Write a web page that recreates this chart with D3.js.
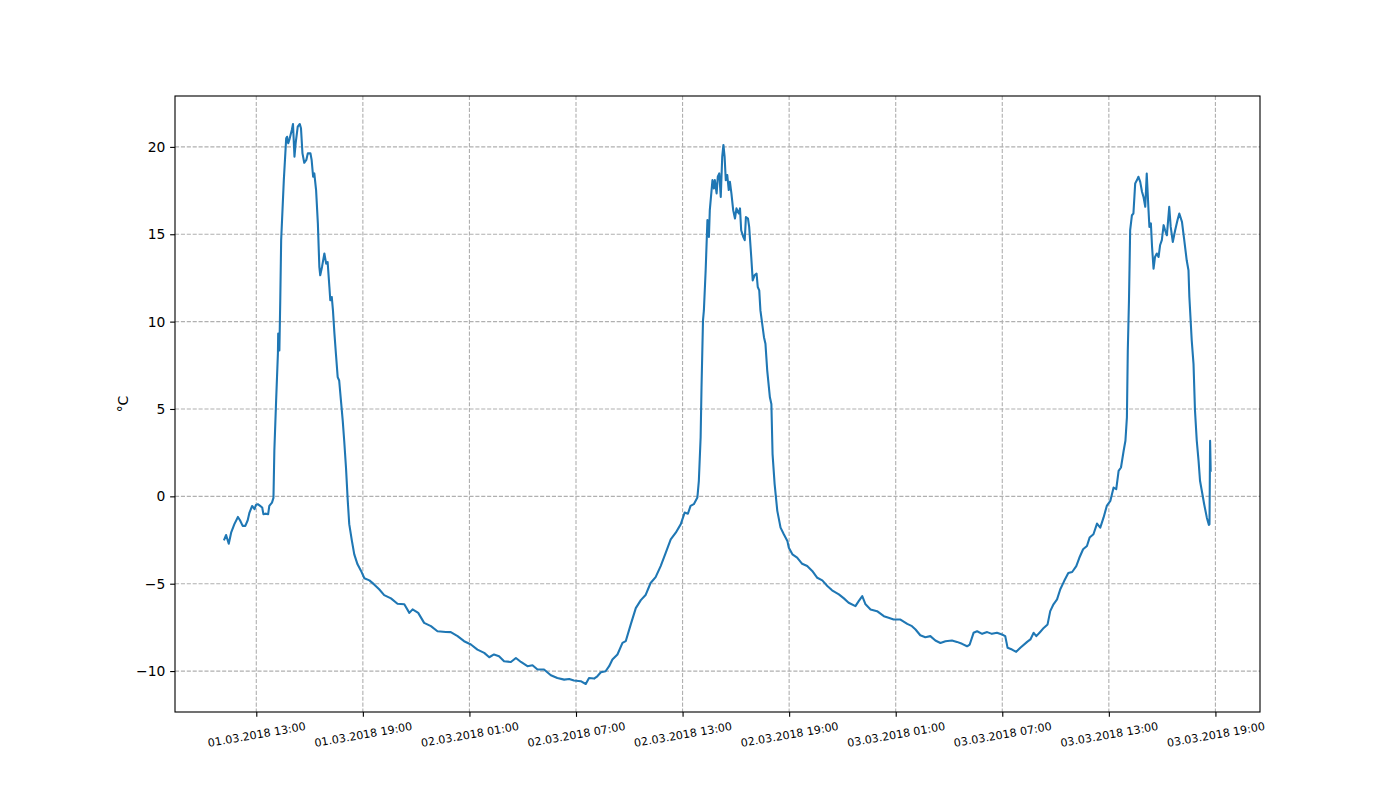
<!DOCTYPE html>
<html>
<head>
<meta charset="utf-8">
<script src="https://cdn.jsdelivr.net/npm/d3@7"></script>
<style>
  html, body { margin: 0; padding: 0; background: #ffffff; }
  svg { display: block; font-family: "DejaVu Sans", sans-serif; }
</style>
</head>
<body>
<svg id="chart" width="1400" height="800"></svg>
<script>
// ---- Data ----
const day1Times = ["11:12","11:18","11:27","11:35","11:46","11:58","12:05","12:14","12:23","12:31","12:37","12:46","12:54","12:59","13:05","13:13","13:20","13:24","13:33","13:40","13:44","13:53","13:58","14:01","14:07","14:13","14:14","14:18","14:21","14:24","14:33","14:41","14:44","14:48","14:53","15:00","15:04","15:09","15:13","15:20","15:27","15:31","15:36","15:42","15:49","15:54","16:03","16:07","16:12","16:16","16:22","16:28","16:33","16:36","16:42","16:50","16:56","17:01","17:07","17:10","17:15","17:19","17:24","17:29","17:35","17:40","17:46","17:52","17:57","18:03","18:09","18:14","18:23","18:31","18:42","18:54","19:05","19:22","19:38","19:55","20:12","20:35","20:57","21:20","21:37","21:48","22:07","22:27","22:50","23:12","23:40","23:57"];
const day1Temps = [-2.46,-2.21,-2.71,-2.08,-1.59,-1.18,-1.37,-1.69,-1.69,-1.37,-0.93,-0.55,-0.73,-0.49,-0.45,-0.55,-0.64,-1.02,-0.99,-1.02,-0.55,-0.36,-0.09,2.61,5.48,8.16,9.32,8.35,11.22,14.66,18.1,20.49,20.58,20.21,20.49,20.97,21.31,19.44,20.21,21.16,21.31,21.07,19.63,19.09,19.25,19.63,19.63,19.25,18.29,18.48,17.53,15.62,13.13,12.65,13.13,13.9,13.32,13.41,11.98,11.22,11.41,10.64,9.31,8.16,6.82,6.63,5.48,4.33,3.18,1.65,-0.26,-1.59,-2.55,-3.32,-3.89,-4.27,-4.69,-4.81,-5.04,-5.32,-5.65,-5.84,-6.15,-6.18,-6.67,-6.47,-6.67,-7.24,-7.43,-7.72,-7.76,-7.77];

const day2Times = ["00:20","00:42","01:05","01:27","01:50","02:07","02:23","02:40","02:57","03:20","03:37","03:54","04:16","04:33","04:50","05:12","05:35","05:57","06:20","06:37","06:53","07:16","07:33","07:44","08:01","08:12","08:24","08:40","08:52","09:03","09:20","09:37","09:48","10:05","10:22","10:39","10:55","11:12","11:29","11:46","12:03","12:20","12:37","12:54","13:07","13:18","13:27","13:38","13:50","13:55","14:01","14:04","14:09","14:12","14:18","14:24","14:29","14:32","14:41","14:46","14:49","14:55","14:59","15:04","15:09","15:14","15:18","15:22","15:26","15:31","15:36","15:40","15:45","15:51","15:57","16:02","16:10","16:14","16:18","16:25","16:30","16:34","16:41","16:45","16:52","16:57","17:03","17:10","17:14","17:19","17:23","17:35","17:40","17:46","17:55","18:00","18:04","18:11","18:20","18:31","18:42","18:54","18:59","19:11","19:27","19:44","20:01","20:18","20:35","20:52","21:09","21:25","21:48","22:05","22:21","22:44","22:55","23:07","23:18","23:35","23:57"];
const day2Temps = [-8.0,-8.29,-8.48,-8.77,-8.96,-9.21,-9.05,-9.15,-9.44,-9.48,-9.25,-9.48,-9.72,-9.67,-9.91,-9.91,-10.24,-10.4,-10.49,-10.45,-10.54,-10.58,-10.74,-10.4,-10.43,-10.3,-10.07,-10.01,-9.72,-9.34,-9.05,-8.39,-8.29,-7.33,-6.4,-5.94,-5.65,-4.96,-4.62,-3.99,-3.24,-2.46,-2.08,-1.59,-0.93,-0.99,-0.55,-0.45,-0.07,0.89,3.37,6.24,10.07,10.64,12.94,15.81,14.85,16.38,18.1,17.62,18.1,17.34,18.29,18.48,17.14,19.44,20.11,19.44,18.1,18.39,17.53,18.0,17.34,16.38,15.9,16.48,16.19,16.48,15.23,14.85,14.66,15.99,15.9,15.42,13.7,12.36,12.65,12.75,11.98,11.79,10.64,9.11,8.73,7.2,5.67,5.29,2.42,0.7,-0.83,-1.79,-2.17,-2.55,-2.94,-3.32,-3.51,-3.86,-3.99,-4.27,-4.66,-4.81,-5.13,-5.38,-5.61,-5.84,-6.09,-6.28,-6.0,-5.71,-6.18,-6.47,-6.57];

const day3Times = ["00:20","00:36","00:53","01:16","01:39","01:55","02:07","02:23","02:40","02:57","03:14","03:31","03:48","04:10","04:27","04:44","05:01","05:10","05:23","05:35","05:52","06:09","06:25","06:42","06:59","07:10","07:18","07:33","07:47","08:01","08:24","08:35","08:46","08:55","09:08","09:20","09:33","09:42","09:53","10:05","10:16","10:29","10:43","10:56","11:10","11:20","11:33","11:46","11:55","12:08","12:20","12:31","12:42","12:53","13:05","13:16","13:25","13:33","13:41","13:50","13:56","14:01","14:04","14:08","14:12","14:18","14:23","14:29","14:35","14:40","14:46","14:52","14:57","15:03","15:08","15:14","15:17","15:22","15:26","15:31","15:36","15:42","15:48","15:53","15:59","16:05","16:10","16:16","16:24","16:29","16:36","16:44","16:52","16:58","17:07","17:14","17:23","17:29","17:32","17:40","17:46","17:51","17:57","18:03","18:08","18:14","18:22","18:31","18:38","18:40","18:42","18:44"];
const day3Temps = [-6.86,-6.95,-7.05,-7.05,-7.3,-7.43,-7.62,-7.95,-8.06,-8.0,-8.25,-8.39,-8.29,-8.25,-8.33,-8.44,-8.58,-8.48,-7.81,-7.72,-7.87,-7.77,-7.87,-7.81,-7.91,-8.0,-8.67,-8.77,-8.9,-8.67,-8.33,-8.19,-7.81,-8.0,-7.76,-7.53,-7.33,-6.57,-6.18,-5.9,-5.32,-4.85,-4.39,-4.33,-3.99,-3.53,-3.03,-2.84,-2.36,-2.17,-1.56,-1.79,-1.22,-0.55,-0.26,0.5,0.41,1.46,1.65,2.61,3.18,4.52,8.35,11.22,15.23,16.09,16.19,17.91,18.1,18.29,18.0,17.43,17.14,16.57,18.48,16.38,15.42,15.62,14.27,13.03,13.7,13.9,13.7,14.37,14.66,15.52,15.23,14.94,16.57,15.42,14.56,15.23,15.81,16.19,15.71,14.76,13.51,12.94,11.41,8.92,7.58,4.91,3.18,2.04,0.89,0.32,-0.45,-1.22,-1.64,-1.59,3.18,1.46];

const days = ["01.03.2018", "02.03.2018", "03.03.2018"];
const xTickLabels = ["01.03.2018 13:00","01.03.2018 19:00","02.03.2018 01:00","02.03.2018 07:00","02.03.2018 13:00","02.03.2018 19:00","03.03.2018 01:00","03.03.2018 07:00","03.03.2018 13:00","03.03.2018 19:00"];
const yTicks = [-10, -5, 0, 5, 10, 15, 20];
const yLabel = "°C";

// ---- Build records ----
const parse = d3.timeParse("%d.%m.%Y %H:%M");
const fmt = d3.timeFormat("%d.%m.%Y %H:%M");
const data = [];
[[day1Times, day1Temps], [day2Times, day2Temps], [day3Times, day3Temps]].forEach(([ts, vs], i) => {
  ts.forEach((t, j) => data.push({ t: parse(days[i] + " " + t), v: vs[j] }));
});

// ---- Layout ----
const PT = 100 / 72; // matplotlib points -> px at 100 dpi
const svg = d3.select("#chart");
const mLeft = 175, mRight = 1260, mTop = 96, mBottom = 712;

// matplotlib-like 5% margins
const tExt = d3.extent(data, d => d.t);
const tPad = (tExt[1] - tExt[0]) * 0.05;
const vExt = d3.extent(data, d => d.v);
const vPad = (vExt[1] - vExt[0]) * 0.05;

const x = d3.scaleTime()
  .domain([new Date(+tExt[0] - tPad), new Date(+tExt[1] + tPad)])
  .range([mLeft, mRight]);
const y = d3.scaleLinear()
  .domain([vExt[0] - vPad, vExt[1] + vPad])
  .range([mBottom, mTop]);

const xTickDates = xTickLabels.map(s => parse(s));

// grid
const grid = svg.append("g").attr("stroke", "#b0b0b0").attr("stroke-width", 0.8 * PT)
  .attr("stroke-dasharray", `${2.96 * PT},${1.28 * PT}`);
grid.selectAll("line.gx").data(xTickDates).enter().append("line")
  .attr("x1", d => x(d)).attr("x2", d => x(d))
  .attr("y1", mTop).attr("y2", mBottom);
grid.selectAll("line.gy").data(yTicks).enter().append("line")
  .attr("y1", d => y(d)).attr("y2", d => y(d))
  .attr("x1", mLeft).attr("x2", mRight);

// line
const line = d3.line().x(d => x(d.t)).y(d => y(d.v));
svg.append("path").datum(data)
  .attr("fill", "none")
  .attr("stroke", "#1f77b4")
  .attr("stroke-width", 1.5 * PT)
  .attr("stroke-linejoin", "round")
  .attr("stroke-linecap", "square")
  .attr("d", line);

// axes
const xAxis = d3.axisBottom(x).tickValues(xTickDates).tickSize(3.5 * PT).tickPadding(3.5 * PT)
  .tickFormat(d => fmt(d));
const gx = svg.append("g").attr("transform", `translate(0,${mBottom})`).call(xAxis);
gx.select(".domain").remove();
gx.selectAll(".tick line").attr("stroke", "#000").attr("stroke-width", 0.8 * PT);
gx.selectAll(".tick text")
  .attr("font-size", (8 * PT) + "px")
  .attr("font-family", "DejaVu Sans, sans-serif")
  .attr("fill", "#000")
  .attr("y", 0).attr("dy", null)
  .attr("text-anchor", "middle")
  .attr("dominant-baseline", "central")
  .attr("transform", "translate(0,23) rotate(-10)");

const yAxis = d3.axisLeft(y).tickValues(yTicks).tickSize(3.5 * PT).tickPadding(3.5 * PT)
  .tickFormat(d3.format("d"));
const gy = svg.append("g").attr("transform", `translate(${mLeft},0)`).call(yAxis);
gy.select(".domain").remove();
gy.selectAll(".tick line").attr("stroke", "#000").attr("stroke-width", 0.8 * PT);
gy.selectAll(".tick text")
  .attr("font-size", (10 * PT) + "px")
  .attr("font-family", "DejaVu Sans, sans-serif")
  .attr("fill", "#000");

// spines
svg.append("rect")
  .attr("x", mLeft).attr("y", mTop)
  .attr("width", mRight - mLeft).attr("height", mBottom - mTop)
  .attr("fill", "none").attr("stroke", "#000").attr("stroke-width", 0.8 * PT);

// y label
svg.append("text")
  .attr("transform", `translate(128,${(mTop + mBottom) / 2}) rotate(-90)`)
  .attr("text-anchor", "middle")
  .attr("font-size", (10 * PT) + "px")
  .attr("fill", "#000")
  .text(yLabel);
</script>
</body>
</html>
